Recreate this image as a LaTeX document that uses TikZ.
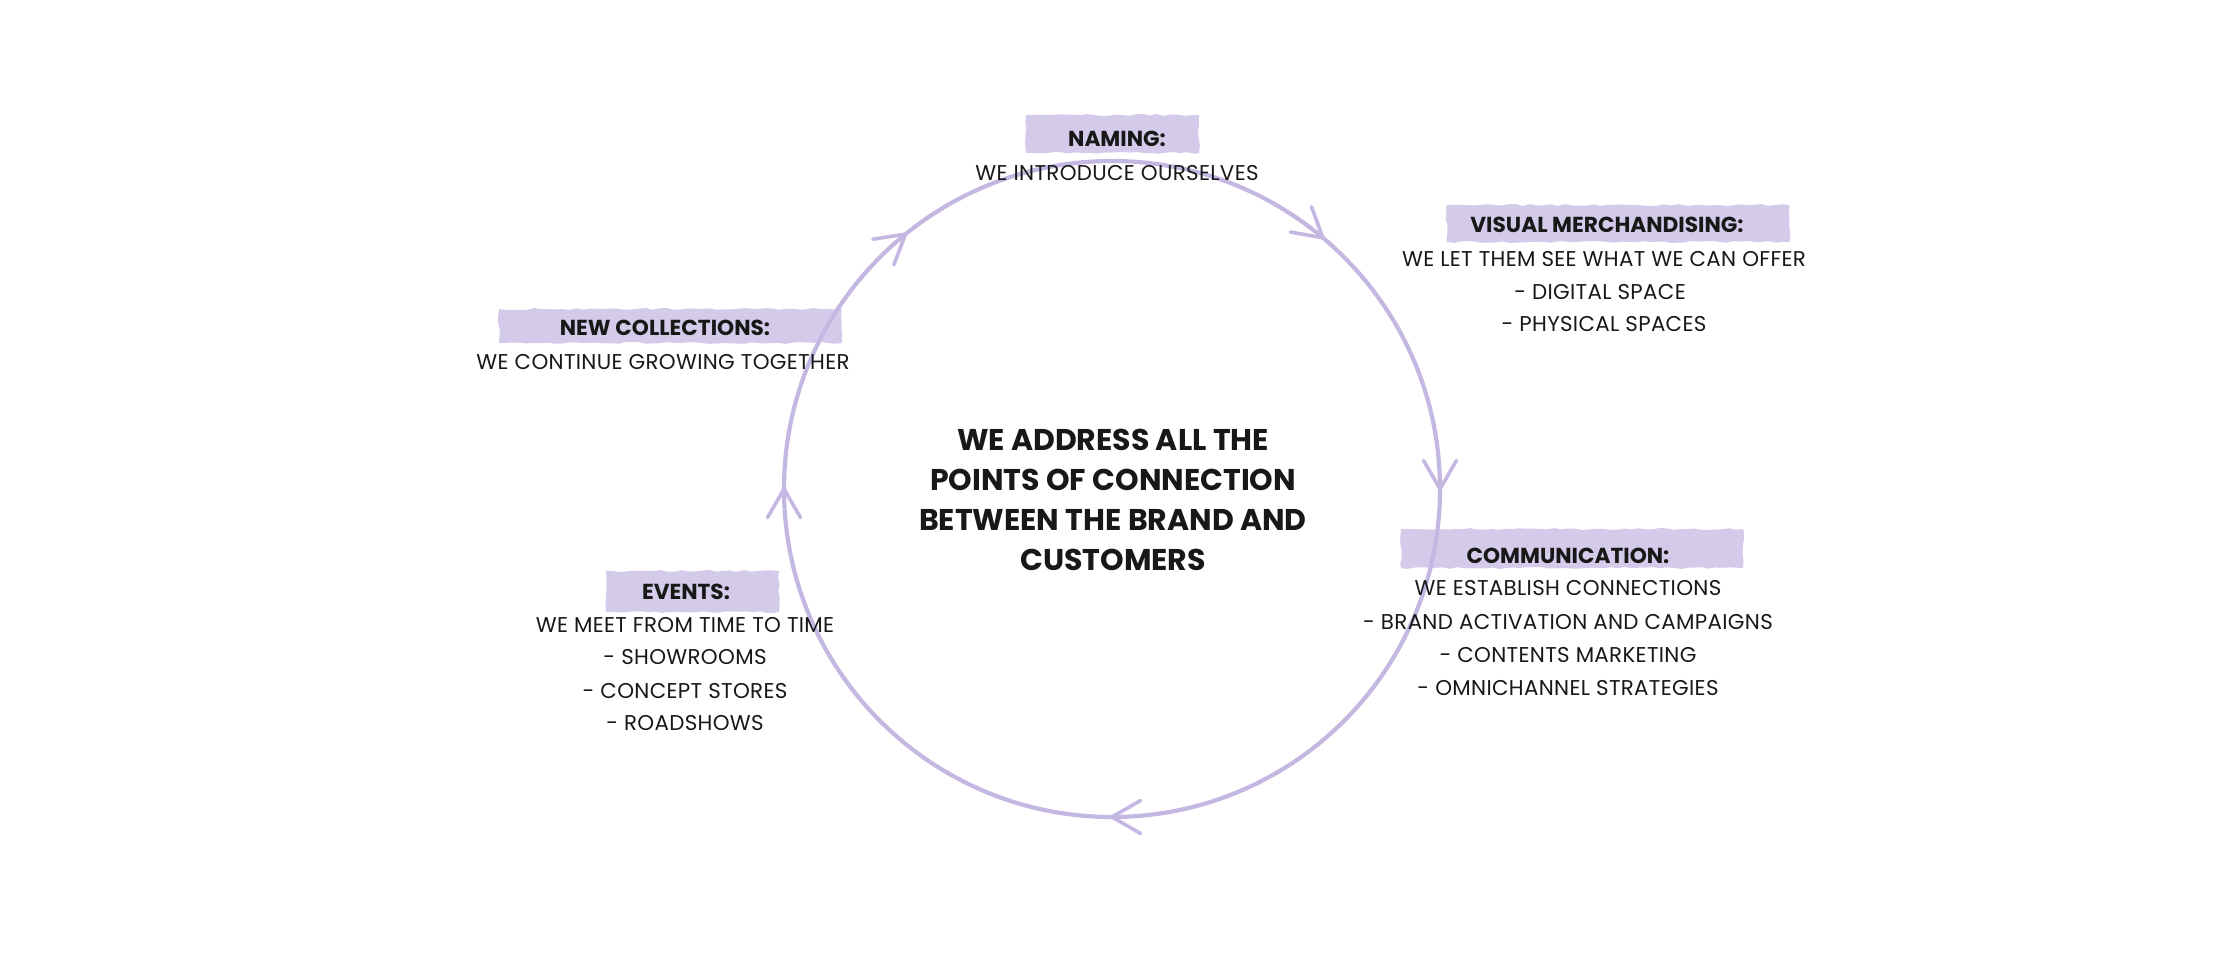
\documentclass[tikz,border=0pt]{standalone}
\usepackage{fontspec}
\setmainfont{Poppins}
\usetikzlibrary{calc,decorations.pathmorphing}
\definecolor{ringc}{RGB}{196,184,226}
\definecolor{hlc}{RGB}{212,203,234}
\definecolor{ink}{RGB}{24,24,24}
\begin{document}
\begin{tikzpicture}[x=1pt,y=-1pt,
  ringline/.style={draw=ringc,line width=4.2pt,line cap=round,line join=round},
  hl/.style={fill=hlc,inner sep=0pt,decorate,decoration={random steps,segment length=7pt,amplitude=1pt}},
  body/.style={font=\fontsize{21.4}{24}\selectfont\addfontfeatures{LetterSpace=1.5},text=ink,anchor=base,inner sep=0pt},
  head/.style={font=\fontsize{21.7}{26}\selectfont\bfseries,text=ink,anchor=base,inner sep=0pt},
  ctr/.style={font=\fontsize{30}{34}\selectfont\bfseries,text=ink,anchor=base,inner sep=0pt}]
\useasboundingbox (0,0) rectangle (2225,968);
\pgfmathsetseed{7}
% highlights
\node[hl,minimum width=173,minimum height=38] (hlN) at (1112.5,134) {};
\node[hl,minimum width=343,minimum height=37] (hlV) at (1618,223.5) {};
\node[hl,minimum width=342,minimum height=39] (hlC) at (1572,548.5) {};
\node[hl,minimum width=343,minimum height=34] (hlNC) at (670.5,326) {};
\node[hl,minimum width=173,minimum height=41] (hlE) at (692.5,591.5) {};
% ring
\coordinate (C) at (1112,489);
\draw[ringline] (C) circle[radius=328];
\foreach \a in {231,310,0,90,180}{
  \draw[ringline,line width=3.6pt] ($(C)+(\a:328)+(\a-60:33)$) -- ($(C)+(\a:328)$) -- ($(C)+(\a:328)+(\a-120:33)$);
}
% centre
\node[ctr] (c1) at (1113,450) {WE ADDRESS ALL THE};
\node[ctr] (c2) at (1113,490) {POINTS OF CONNECTION};
\node[ctr] (c3) at (1113,530) {BETWEEN THE BRAND AND};
\node[ctr] (c4) at (1113,570) {CUSTOMERS};
% naming
\node[head] (nH) at (1117,147) {NAMING:};
\node[body] (n1) at (1117,181) {WE INTRODUCE OURSELVES};
% visual
\node[head] (vH) at (1607,233) {VISUAL MERCHANDISING:};
\node[body] (v1) at (1604,267) {WE LET THEM SEE WHAT WE CAN OFFER};
\node[body] (v2) at (1600,300) {- DIGITAL SPACE};
\node[body] (v3) at (1604,332) {- PHYSICAL SPACES};
% communication
\node[head] (mH) at (1568,563) {COMMUNICATION:};
\node[body] (m1) at (1568,595.5) {WE ESTABLISH CONNECTIONS};
\node[body] (m2) at (1568,629) {- BRAND ACTIVATION AND CAMPAIGNS};
\node[body] (m3) at (1568,662) {- CONTENTS MARKETING};
\node[body] (m4) at (1568,695) {- OMNICHANNEL STRATEGIES};
% new collections
\node[head] (ncH) at (665,335) {NEW COLLECTIONS:};
\node[body] (nc1) at (663,369) {WE CONTINUE GROWING TOGETHER};
% events
\node[head] (eH) at (686,599) {EVENTS:};
\node[body] (e1) at (685,632) {WE MEET FROM TIME TO TIME};
\node[body] (e2) at (685,664) {- SHOWROOMS};
\node[body] (e3) at (685,698) {- CONCEPT STORES};
\node[body] (e4) at (685,730) {- ROADSHOWS};
\end{tikzpicture}
\end{document}
